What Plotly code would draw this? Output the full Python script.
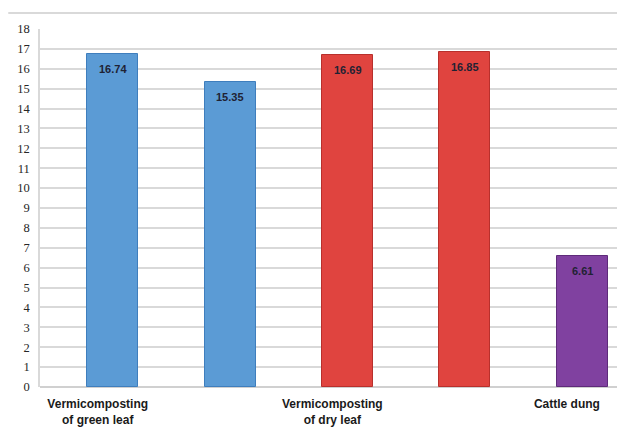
import plotly.graph_objects as go

groups = ["Vermicomposting<br>of green leaf", "Vermicomposting<br>of dry leaf", "Cattle dung"]
values = [16.74, 15.35, 16.69, 16.85, 6.61]
bar_group = [0, 0, 1, 1, 2]
group_colors = ["#5B9BD5", "#E0443F", "#8041A0"]
group_edges = ["#3F7EBD", "#B8302C", "#5E2B7A"]
y_ticks = list(range(0, 19))

x = list(range(len(values)))
fill = [group_colors[g] for g in bar_group]
edge = [group_edges[g] for g in bar_group]

label_pos = []
for gi in range(len(groups)):
    first = bar_group.index(gi)
    label_pos.append(first - 0.13)

fig = go.Figure()
fig.add_trace(go.Bar(
    x=x, y=values,
    width=0.435,
    marker=dict(color=fill, line=dict(color=edge, width=1)),
    hoverinfo="skip",
))

for xi, v in zip(x, values):
    fig.add_annotation(
        x=xi, y=v, text="<b>%.2f</b>" % v, showarrow=False,
        yanchor="middle", yshift=-15,
        font=dict(family="Liberation Sans", size=11, color="#1F2233"),
    )

fig.update_layout(
    width=617, height=432,
    margin=dict(l=40, r=0, t=29, b=45),
    plot_bgcolor="white", paper_bgcolor="white",
    showlegend=False,
    bargap=0,
    xaxis=dict(
        range=[-0.622, 4.297],
        tickvals=label_pos, ticktext=["<b>%s</b>" % g for g in groups],
        tickfont=dict(family="Liberation Sans", size=12, color="#1a1a1a"),
        showgrid=False, zeroline=False, showline=False, ticks="",
        ticklabelstandoff=8,
    ),
    yaxis=dict(
        range=[0, 18],
        tickvals=y_ticks,
        tickfont=dict(family="Liberation Serif", size=12.5, color="#262626"),
        showgrid=True, gridcolor="#D9D9D9", gridwidth=1.5,
        zeroline=True, zerolinecolor="#D0D0D0", zerolinewidth=1.5,
        showline=True, linecolor="#D9D9D9", linewidth=1.5,
        ticks="", ticklabelstandoff=6,
    ),
)

fig.add_shape(type="line", xref="paper", yref="paper",
              x0=-0.055, x1=1.0, y0=1.045, y1=1.045,
              line=dict(color="#D9D9D9", width=2))

fig.write_html("out.html")
